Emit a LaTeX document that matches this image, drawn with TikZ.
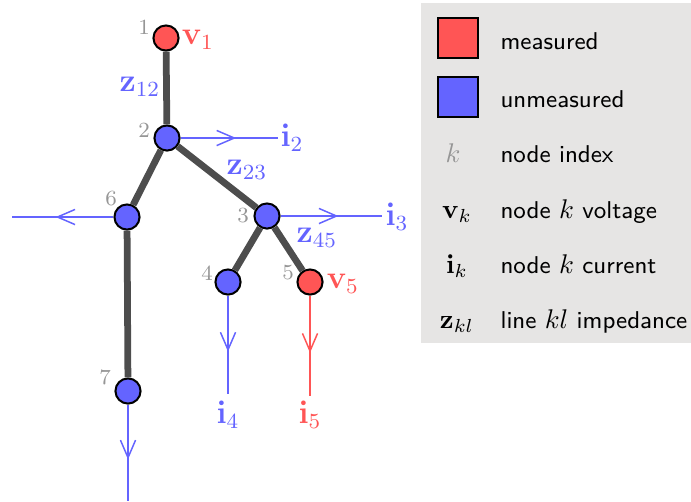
\documentclass[tikz,border=0pt]{standalone}
\usetikzlibrary{arrows.meta,decorations.markings}
\definecolor{meas}{RGB}{255,85,85}
\definecolor{unmeas}{RGB}{100,100,255}
\definecolor{wire}{RGB}{77,77,77}
\definecolor{idxgray}{RGB}{150,150,150}
\definecolor{legbg}{RGB}{230,229,228}
\newcommand{\kk}[1]{{\normalsize$#1$}}
\tikzset{
  bus/.style={circle,draw=black,line width=0.75pt,fill=#1,minimum size=9.3pt,inner sep=0pt},
  bus/.default=unmeas,
  line/.style={draw=wire,line width=2.5pt},
  current/.style={draw=#1,line width=0.55pt,postaction={decorate},
    decoration={markings,mark=at position 0.57 with
      {\arrow[#1]{Straight Barb[length=6.5pt,width=5.6pt,line width=0.55pt]}}}},
  current/.default=unmeas,
  lbl/.style={font=\large,text=#1,inner sep=0pt},
  lbl/.default=unmeas,
  idx/.style={font=\footnotesize,text=idxgray,inner sep=0pt},
  swatch/.style={draw=black,line width=0.75pt,fill=#1,minimum size=14.8pt,inner sep=0pt},
  legtext/.style={font=\small\sffamily,anchor=base west,inner sep=0pt},
  legsym/.style={anchor=base,inner sep=0pt},
}
\begin{document}
\begin{tikzpicture}[x=0.37pt,y=-0.37pt]
  \useasboundingbox (0,0) rectangle (691,501);
  % network
  \node[bus=meas] (n1) at (166,38) {};
  \node[bus] (n2) at (167,138) {};
  \node[bus] (n3) at (267,216) {};
  \node[bus] (n4) at (228,282) {};
  \node[bus=meas] (n5) at (310,282) {};
  \node[bus] (n6) at (127,217) {};
  \node[bus] (n7) at (128,391) {};
  \draw[line] (n1) -- (n2);
  \draw[line] (n2) -- (n3);
  \draw[line] (n2) -- (n6);
  \draw[line] (n3) -- (n4);
  \draw[line] (n3) -- (n5);
  \draw[line] (n6) -- (n7);
  % injected currents
  \coordinate (c2) at (278,138);
  \coordinate (c3) at (382,216);
  \coordinate (c4) at (228,394);
  \coordinate (c5) at (310,396);
  \coordinate (c6) at (12,217);
  \coordinate (c7) at (128,501);
  \draw[current] (n2) -- (c2);
  \draw[current] (n3) -- (c3);
  \draw[current] (n4) -- (c4);
  \draw[current=meas] (n5) -- (c5);
  \draw[current] (n6) -- (c6);
  \draw[current] (n7) -- (c7);
  % labels
  \node[lbl=meas] (v1) at (198,40) {$\mathbf{v}_1$};
  \node[lbl=meas] (v5) at (343,284) {$\mathbf{v}_5$};
  \node[lbl] (z12) at (140,87) {$\mathbf{z}_{12}$};
  \node[lbl] (z23) at (247,170) {$\mathbf{z}_{23}$};
  \node[lbl] (z45) at (317,238) {$\mathbf{z}_{45}$};
  \node[lbl] (i2) at (292,138) {$\mathbf{i}_2$};
  \node[lbl] (i3) at (397,217) {$\mathbf{i}_3$};
  \node[lbl] (i4) at (228,415) {$\mathbf{i}_4$};
  \node[lbl=meas] (i5) at (310,415) {$\mathbf{i}_5$};
  \foreach \k/\x/\y in {1/144/27,2/144/130,3/243/216,4/207/273,5/288/273,6/111/199,7/105/377}
    \node[idx] (k\k) at (\x,\y) {\k};
  % legend
  \fill[legbg] (421,3) rectangle (691,343);
  \node[swatch=meas] (sq1) at (458,38) {};
  \node[swatch=unmeas] (sq2) at (458,97) {};
  \node[legsym,text=idxgray] (s3) at (453,162) {$k$};
  \node[legsym] (s4) at (457,218) {$\mathbf{v}_k$};
  \node[legsym] (s5) at (457,273) {$\mathbf{i}_k$};
  \node[legsym] (s6) at (457,328) {$\mathbf{z}_{kl}$};
  \node[legtext] (t1) at (500,49) {measured};
  \node[legtext] (t2) at (500,107) {unmeasured};
  \node[legtext] (t3) at (500,162) {node index};
  \node[legtext] (t4) at (500,218) {node \kk{k} voltage};
  \node[legtext] (t5) at (500,273) {node \kk{k} current};
  \node[legtext] (t6) at (500,328) {line \kk{kl} impedance};
\end{tikzpicture}
\end{document}
